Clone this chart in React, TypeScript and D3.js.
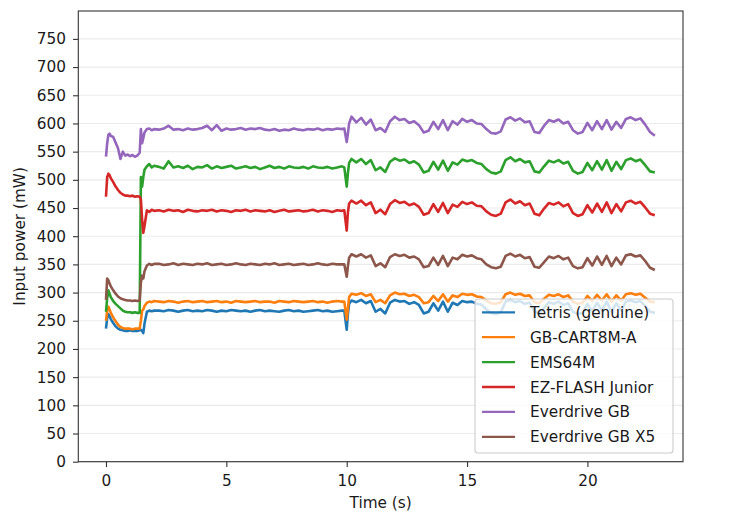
import * as d3 from "d3"
import { useEffect, useRef } from "react"

const WIDTH = 750
const HEIGHT = 529
const plot = { left: 78.3, right: 683, top: 11, bottom: 461.7 }
const FONT = "DejaVu Sans, sans-serif"
const FONT_SIZE = 15.3
const TEXT_COLOR = "#1a1a1a"
const SPINE_COLOR = "#333"

// sample times (s), denser around the start-up and the 10 s event
const TIME_START = [0, 0.05, 0.1, 0.15, 0.2, 0.3, 0.4, 0.5, 0.6, 0.7, 0.8, 0.9, 1.0, 1.1, 1.2, 1.3, 1.4, 1.45, 1.5, 1.55, 1.6, 1.7, 1.8, 1.9, 2.0]
const TIME_FLAT = [
  2.2, 2.4, 2.6, 2.8, 3.0, 3.2, 3.4, 3.6, 3.8, 4.0,
  4.2, 4.4, 4.6, 4.8, 5.0, 5.2, 5.4, 5.6, 5.8, 6.0,
  6.2, 6.4, 6.6, 6.8, 7.0, 7.2, 7.4, 7.6, 7.8, 8.0,
  8.2, 8.4, 8.6, 8.8, 9.0, 9.2, 9.4, 9.6, 9.8,
]
const TIME_JUMP = [9.9, 10.0, 10.05, 10.1, 10.2]
const TIME_ACTIVE = [
  10.4, 10.6, 10.8, 11.0, 11.2, 11.4, 11.6, 11.8, 12.0, 12.2,
  12.4, 12.6, 12.8, 13.0, 13.2, 13.4, 13.6, 13.8, 14.0, 14.2,
  14.4, 14.6, 14.8, 15.0, 15.2, 15.4, 15.6, 15.8, 16.0, 16.2,
  16.4, 16.6, 16.8, 17.0, 17.2, 17.4, 17.6, 17.8, 18.0, 18.2,
  18.4, 18.6, 18.8, 19.0, 19.2, 19.4, 19.6, 19.8, 20.0, 20.2,
  20.4, 20.6, 20.8, 21.0, 21.2, 21.4, 21.6, 21.8, 22.0, 22.2,
  22.4, 22.6, 22.8,
]
const TIME = [...TIME_START, ...TIME_FLAT, ...TIME_JUMP, ...TIME_ACTIVE]

// input power (mW), one value per sample time
const tetris = [
  236, 255, 262, 258, 253, 246, 240, 236, 234, 233, 232, 232, 233, 232, 232, 232, 233, 234, 232, 228, 245, 266, 268, 267, 268,
  268, 267, 269, 268, 266, 268, 269, 267, 268, 267,
  269, 268, 266, 268, 267, 269, 268, 267, 268, 266,
  268, 269, 267, 268, 267, 266, 268, 269, 267, 268,
  266, 267, 268, 269, 267, 268, 266, 267, 268,
  268, 234, 262, 280, 286,
  283, 287, 281, 285, 266, 271, 263, 282, 287, 284,
  285, 280, 283, 278, 263, 266, 281, 268, 284, 266,
  282, 278, 285, 283, 284, 280, 279, 270, 264, 262,
  265, 284, 287, 283, 285, 280, 282, 266, 263, 273,
  283, 280, 284, 278, 281, 266, 262, 264, 280, 267,
  282, 268, 284, 266, 281, 268, 284, 286, 283, 285,
  276, 266, 264,
]
const gbCart = [
  250, 268, 275, 270, 264, 256, 249, 243, 239, 237, 236, 236, 236, 235, 236, 236, 236, 250, 268, 270, 276, 282, 284, 283, 285,
  284, 283, 285, 284, 282, 284, 285, 283, 284, 285,
  283, 284, 285, 283, 284, 282, 285, 284, 283, 284,
  285, 283, 284, 284, 282, 285, 284, 283, 285, 284,
  283, 284, 285, 283, 284, 282, 284, 285, 284,
  284, 252, 272, 292, 298,
  296, 299, 294, 297, 283, 287, 281, 295, 300, 297,
  298, 294, 296, 292, 281, 283, 294, 285, 297, 284,
  295, 292, 298, 296, 297, 293, 292, 286, 281, 280,
  283, 297, 300, 296, 298, 294, 295, 283, 281, 289,
  296, 294, 297, 292, 295, 284, 280, 282, 294, 285,
  296, 286, 297, 284, 295, 286, 297, 299, 296, 298,
  291, 284, 283,
]
const ems64m = [
  266, 290, 304, 298, 292, 285, 280, 276, 272, 268, 266, 265, 265, 264, 265, 264, 264, 505, 488, 505, 518, 524, 528, 522, 525,
  523, 520, 533, 522, 524, 521, 525, 519, 523, 522,
  526, 520, 524, 521, 523, 525, 520, 522, 524, 521,
  523, 519, 522, 525, 521, 523, 520, 524, 522, 521,
  523, 520, 524, 522, 521, 523, 520, 522, 524,
  522, 488, 512, 530, 537,
  531, 537, 528, 535, 517, 522, 514, 532, 538, 534,
  536, 530, 533, 527, 513, 516, 532, 518, 534, 516,
  531, 527, 536, 533, 535, 530, 528, 519, 513, 511,
  515, 535, 540, 533, 537, 531, 533, 515, 513, 524,
  534, 531, 535, 529, 532, 516, 511, 514, 530, 517,
  533, 518, 535, 516, 532, 519, 535, 538, 533, 536,
  526, 515, 513,
]
const ezFlash = [
  470, 505, 511, 508, 503, 496, 488, 482, 477, 474, 472, 472, 471, 472, 470, 471, 470, 465, 430, 406, 418, 446, 443, 447, 445,
  446, 444, 447, 445, 446, 443, 447, 445, 444, 446,
  445, 447, 444, 446, 445, 443, 446, 445, 447, 444,
  446, 445, 444, 446, 443, 445, 447, 444, 445, 446,
  444, 445, 447, 444, 446, 445, 443, 446, 445,
  446, 410, 442, 458, 463,
  458, 463, 455, 460, 441, 447, 439, 457, 464, 459,
  461, 455, 458, 452, 438, 441, 457, 443, 459, 441,
  456, 452, 461, 457, 460, 454, 453, 444, 438, 436,
  440, 460, 465, 458, 462, 455, 458, 440, 437, 449,
  459, 456, 460, 453, 457, 441, 436, 439, 455, 442,
  458, 443, 460, 441, 457, 444, 460, 463, 458, 461,
  451, 440, 437,
]
const everdrive = [
  541, 565, 580, 582, 578, 576, 566, 556, 537, 550, 543, 545, 542, 544, 541, 543, 548, 590, 565, 574, 584, 590, 591, 588, 590,
  589, 591, 596, 589, 590, 588, 591, 589, 590, 592,
  596, 588, 597, 587, 591, 589, 590, 592, 589, 591,
  590, 592, 589, 588, 590, 587, 589, 588, 591, 589,
  588, 590, 589, 591, 588, 590, 589, 591, 590,
  591, 567, 582, 600, 612,
  602, 610, 598, 607, 588, 592, 585, 604, 612, 606,
  608, 601, 604, 597, 584, 587, 603, 590, 606, 588,
  604, 598, 608, 603, 606, 600, 599, 590, 583, 582,
  586, 607, 611, 605, 609, 602, 604, 585, 583, 596,
  606, 603, 607, 600, 603, 588, 582, 585, 601, 588,
  604, 590, 606, 589, 603, 592, 608, 611, 606, 609,
  598, 585, 578,
]
const everdriveX5 = [
  287, 325, 322, 316, 311, 304, 298, 293, 290, 288, 287, 286, 286, 285, 286, 285, 286, 318, 330, 325, 338, 348, 351, 349, 351,
  351, 349, 350, 352, 349, 351, 350, 349, 351, 350,
  352, 349, 350, 351, 349, 350, 352, 350, 349, 351,
  350, 349, 351, 350, 352, 349, 350, 351, 349, 350,
  351, 349, 350, 352, 350, 349, 351, 350, 350,
  350, 328, 347, 362, 368,
  364, 368, 362, 366, 347, 352, 345, 363, 368, 365,
  367, 362, 364, 359, 345, 347, 362, 349, 365, 347,
  362, 359, 367, 364, 366, 361, 359, 350, 345, 343,
  346, 365, 369, 364, 367, 361, 363, 346, 344, 354,
  364, 361, 365, 359, 362, 347, 343, 345, 361, 348,
  364, 349, 365, 347, 362, 350, 366, 368, 364, 366,
  356, 344, 340,
]

const SERIES_NAMES = ["Tetris (genuine)", "GB-CART8M-A", "EMS64M", "EZ-FLASH Junior", "Everdrive GB", "Everdrive GB X5"]
const SERIES_COLORS = ["#1f77b4", "#ff7f0e", "#2ca02c", "#d62728", "#9467bd", "#8c564b"]
const SERIES_VALUES = [tetris, gbCart, ems64m, ezFlash, everdrive, everdriveX5]

const Y_TICKS = [0, 50, 100, 150, 200, 250, 300, 350, 400, 450, 500, 550, 600, 650, 700, 750]
const X_TICKS = [0, 5, 10, 15, 20]

export default function App() {
  const svgRef = useRef<SVGSVGElement | null>(null)

  useEffect(() => {
    if (!svgRef.current) return
    const svg = d3.select(svgRef.current)
    svg.selectAll("*").remove()

    const x = d3.scaleLinear().domain([-1.15, 23.97]).range([plot.left, plot.right])
    const y = d3.scaleLinear().domain([0, 799.5]).range([plot.bottom, plot.top])

    // Grid lines
    svg
      .append("g")
      .selectAll("line")
      .data(Y_TICKS)
      .enter()
      .append("line")
      .attr("x1", plot.left)
      .attr("x2", plot.right)
      .attr("y1", (d) => y(d))
      .attr("y2", (d) => y(d))
      .attr("stroke", "#ebebeb")
      .attr("stroke-width", 1.1)

    // Lines
    const line = d3
      .line<number>()
      .x((_, i) => x(TIME[i]))
      .y((d) => y(d))

    svg
      .append("g")
      .selectAll("path")
      .data(SERIES_VALUES)
      .enter()
      .append("path")
      .attr("d", (d) => line(d.slice(0, TIME.length)))
      .attr("fill", "none")
      .attr("stroke", (_, i) => SERIES_COLORS[i])
      .attr("stroke-width", 2.6)
      .attr("stroke-linejoin", "round")

    // Y axis
    const yAxis = svg
      .append("g")
      .attr("transform", `translate(${plot.left},0)`)
      .call(d3.axisLeft(y).tickValues(Y_TICKS).tickSize(5.3).tickPadding(7))
    yAxis.select(".domain").remove()
    yAxis.selectAll("line").attr("stroke", SPINE_COLOR).attr("stroke-width", 1.1)
    yAxis
      .selectAll("text")
      .style("font-family", FONT)
      .style("font-size", `${FONT_SIZE}px`)
      .attr("fill", TEXT_COLOR)

    // X axis
    const xAxis = svg
      .append("g")
      .attr("transform", `translate(0,${plot.bottom})`)
      .call(d3.axisBottom(x).tickValues(X_TICKS).tickSize(5.3).tickPadding(8.5))
    xAxis.select(".domain").remove()
    xAxis.selectAll("line").attr("stroke", SPINE_COLOR).attr("stroke-width", 1.1)
    xAxis
      .selectAll("text")
      .style("font-family", FONT)
      .style("font-size", `${FONT_SIZE}px`)
      .attr("fill", TEXT_COLOR)

    // Spines
    svg
      .append("rect")
      .attr("x", plot.left)
      .attr("y", plot.top)
      .attr("width", plot.right - plot.left)
      .attr("height", plot.bottom - plot.top)
      .attr("fill", "none")
      .attr("stroke", SPINE_COLOR)
      .attr("stroke-width", 1.1)

    // Axis labels
    svg
      .append("text")
      .attr("x", (plot.left + plot.right) / 2)
      .attr("y", 508)
      .attr("text-anchor", "middle")
      .text("Time (s)")
      .style("font-family", FONT)
      .style("font-size", `${FONT_SIZE}px`)
      .attr("fill", TEXT_COLOR)

    svg
      .append("text")
      .attr("transform", `translate(24.5,${(plot.top + plot.bottom) / 2}) rotate(-90)`)
      .attr("text-anchor", "middle")
      .text("Input power (mW)")
      .style("font-family", FONT)
      .style("font-size", `${FONT_SIZE}px`)
      .attr("fill", TEXT_COLOR)

    // Legend
    const legend = svg.append("g")
    legend
      .append("rect")
      .attr("x", 475)
      .attr("y", 299)
      .attr("width", 198)
      .attr("height", 154)
      .attr("rx", 3)
      .attr("fill", "#fff")
      .attr("fill-opacity", 0.8)
      .attr("stroke", "#cccccc")
      .attr("stroke-width", 1.1)

    const rows = legend
      .selectAll("g.row")
      .data(SERIES_NAMES)
      .enter()
      .append("g")
      .attr("class", "row")
      .attr("transform", (_, i) => `translate(0,${312.3 + i * 24.9})`)

    rows
      .append("line")
      .attr("x1", 482)
      .attr("x2", 515)
      .attr("stroke", (_, i) => SERIES_COLORS[i])
      .attr("stroke-width", 2.3)

    rows
      .append("text")
      .attr("x", 530)
      .attr("y", 5.5)
      .text((d) => d)
      .style("font-family", FONT)
      .style("font-size", `${FONT_SIZE}px`)
      .attr("fill", TEXT_COLOR)
  }, [])

  return (
    <svg
      ref={svgRef}
      width={WIDTH}
      height={HEIGHT}
      style={{ position: "absolute", left: 0, top: 0, background: "#fff" }}
      xmlns="http://www.w3.org/2000/svg"
    />
  )
}
